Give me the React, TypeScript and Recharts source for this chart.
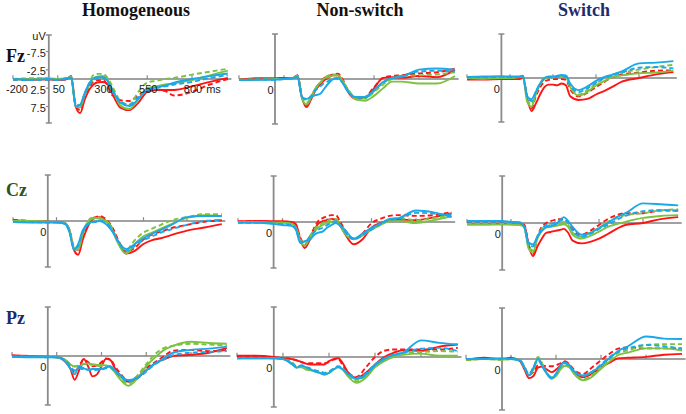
import React from "react";
import { LineChart, Line, XAxis, YAxis, ReferenceLine, ReferenceDot } from "recharts";

// sample times (ms) shared by every waveform
const TIMES = [-200, -100, 0, 50, 100, 125, 150, 175, 200, 225, 250, 275, 300, 325, 350, 375, 400, 450, 500, 550, 600, 650, 700, 800, 900, 1000];

const CONDITIONS = ["Homogeneous", "Non-switch", "Switch"];
const ELECTRODES = ["Fz", "Cz", "Pz"];

const X_TICKS = [-200, 50, 300, 550, 800];
const Y_TICKS = [-7.5, -2.5, 2.5, 7.5];

// rows: red, red dashed, green, green dashed, blue, blue dashed (uV, negative up)
const FZ_HOMOGENEOUS = [
  [0, 0.2, 0.1, 0.3, 0.0, -0.8, 7.5, 9.3, 5.7, 3.0, 1.5, 0.9, 0.8, 1.2, 3.5, 6.0, 7.8, 8.5, 6.5, 3.5, 3.0, 3.0, 3.0, 2.0, 0.8, -0.3],
  [0.2, 0.0, 0.2, 0.3, 0.1, -0.4, 7.0, 8.5, 5.0, 2.5, 0.7, 0.3, 0.3, 1.5, 4.2, 5.0, 5.8, 6.0, 4.5, 3.2, 3.0, 3.3, 4.5, 3.5, 1.5, 0.0],
  [0.1, 0.0, -0.2, 0.0, -0.2, -0.5, 7.5, 7.8, 4.4, 1.8, -0.2, -0.7, -0.8, 0.0, 2.5, 5.0, 7.2, 8.2, 5.5, 2.5, 2.0, 1.5, 1.2, 0.3, -1.0, -2.3],
  [0.0, -0.2, -0.2, 0.0, -0.3, -0.6, 7.0, 7.2, 4.0, 1.2, -1.1, -1.4, -1.4, -0.5, 1.5, 4.0, 6.0, 7.0, 3.5, 1.0, 0.5, 0.0, -0.3, -1.2, -2.0, -2.8],
  [0.0, 0.2, 0.0, 0.2, -0.2, -0.4, 7.5, 7.0, 3.9, 1.2, -0.2, -0.5, -0.5, 0.3, 2.8, 4.8, 6.5, 7.4, 5.5, 3.0, 2.3, 1.8, 1.0, 0.0, -0.8, -1.5],
  [0.2, 0.3, 0.2, 0.3, 0.0, -0.3, 7.0, 7.2, 4.2, 1.8, 0.3, -0.1, -0.2, 0.5, 2.5, 4.5, 6.2, 7.0, 5.0, 3.0, 2.5, 2.0, 1.5, 0.8, -0.3, -1.0],
];

const FZ_NONSWITCH = [
  [0.2, -0.2, -0.2, -0.3, -0.3, -1.0, 5.0, 7.5, 5.5, 3.0, 1.5, 0.3, -0.5, -1.0, -1.0, 0.5, 3.0, 5.3, 5.0, 2.5, -0.3, -0.5, -0.3, -0.8, -0.5, -2.5],
  [0.2, 0.0, 0.0, -0.2, -0.2, -0.9, 4.8, 7.0, 5.0, 2.5, 1.0, -0.3, -0.8, -1.3, -1.4, 0.0, 2.5, 5.0, 4.8, 2.2, -0.3, -0.8, -1.0, -1.5, -1.8, -2.8],
  [0.2, 0.2, 0.0, 0.0, -0.2, -0.8, 5.2, 6.8, 5.0, 2.5, 1.0, -0.2, -0.5, -1.0, -1.0, 0.5, 2.5, 5.5, 5.8, 4.5, 2.5, 0.7, 0.7, 1.2, 1.2, -0.8],
  [0.2, 0.1, 0.0, 0.0, -0.2, -0.8, 4.8, 6.3, 4.8, 2.5, 1.2, -0.3, -1.0, -1.2, -0.8, 0.5, 2.3, 5.0, 5.2, 3.5, 1.5, 0.0, -0.8, -1.0, -1.2, -1.8],
  [0.3, 0.2, 0.2, 0.0, -0.2, -0.5, 4.8, 5.3, 4.8, 4.3, 4.0, 2.5, 1.0, 0.0, -0.3, 1.0, 3.0, 4.8, 4.8, 3.0, 0.8, -0.3, -0.5, -2.5, -2.8, -2.5],
  [0.3, 0.1, 0.2, 0.0, -0.2, -0.6, 4.8, 5.5, 4.5, 3.0, 2.0, 1.0, 0.5, -0.2, 0.0, 1.0, 2.8, 5.0, 5.0, 3.2, 1.0, -0.2, -0.8, -2.0, -2.2, -2.0],
];

const FZ_SWITCH = [
  [0.4, 0.4, 0.3, 0.3, 0.3, 0.0, 5.5, 9.0, 7.0, 4.5, 2.5, 1.8, 1.8, 2.0, 1.5, 2.0, 5.0, 6.0, 5.7, 4.5, 3.5, 2.3, 1.0, 0.0, -1.0, -1.6],
  [0.3, 0.3, 0.2, 0.2, 0.2, -0.2, 5.5, 8.3, 5.0, 2.5, 1.0, 0.5, 0.3, 0.3, 0.3, 0.5, 3.0, 5.0, 4.0, 2.5, 1.0, -0.3, -1.0, -1.5, -2.0, -2.1],
  [0.0, 0.2, 0.0, 0.0, -0.2, -0.5, 6.5, 7.8, 4.5, 1.8, 0.3, -0.2, -0.2, -0.3, -0.3, -0.2, 2.5, 4.8, 3.8, 2.0, 0.8, -0.3, -0.7, -1.3, -1.5, -2.0],
  [0.0, 0.0, -0.2, -0.2, -0.3, -0.5, 6.0, 7.2, 4.0, 1.5, 0.0, -0.3, -0.3, -0.5, -0.5, -0.3, 2.3, 4.5, 3.3, 1.5, 0.0, -1.0, -1.5, -2.3, -3.0, -3.6],
  [-0.3, -0.4, -0.5, -0.4, -0.4, -0.6, 5.0, 5.8, 3.8, 1.5, 0.0, -0.4, -0.4, -0.6, -0.8, -0.7, 1.5, 3.3, 2.3, 0.8, -0.3, -1.0, -1.8, -4.0, -4.2, -4.6],
  [-0.2, -0.2, -0.3, -0.2, -0.3, -0.5, 5.0, 6.3, 3.8, 1.5, 0.2, -0.2, -0.2, -0.3, -0.5, -0.3, 2.0, 3.8, 2.8, 1.3, 0.0, -0.8, -1.5, -2.8, -3.0, -2.6],
];

const CZ_HOMOGENEOUS = [
  [-0.2, 0.0, 0.2, 0.3, 0.6, 2.5, 7.5, 8.8, 5.0, 2.0, -0.2, -0.8, -1.0, -0.3, 0.5, 2.5, 5.0, 8.5, 7.8, 6.0, 5.0, 4.5, 3.8, 2.5, 1.7, 0.8],
  [-0.3, 0.0, 0.2, 0.3, 0.5, 2.5, 7.0, 7.5, 4.0, 1.2, -0.5, -1.0, -1.3, -0.8, 0.3, 2.0, 4.5, 8.0, 7.0, 4.8, 3.5, 2.8, 2.0, 1.0, 0.2, -0.2],
  [0.0, 0.0, 0.2, 0.3, 0.6, 2.5, 7.0, 7.5, 3.5, 0.8, -0.5, -0.8, -0.8, -0.2, 0.5, 2.8, 5.5, 8.5, 6.0, 4.0, 3.0, 2.0, 1.0, -0.8, -1.5, -1.3],
  [0.0, 0.0, 0.2, 0.3, 0.5, 2.3, 6.5, 7.0, 3.0, 0.5, -0.8, -0.7, -0.6, 0.0, 0.6, 2.5, 5.0, 7.5, 5.0, 3.0, 2.0, 1.0, 0.0, -1.0, -1.8, -1.8],
  [0.3, 0.4, 0.4, 0.4, 0.8, 3.0, 7.5, 6.0, 2.5, 1.0, 0.3, 0.2, 0.0, 0.5, 1.5, 3.0, 5.0, 7.3, 6.0, 4.5, 3.3, 2.3, 1.3, -1.0, -1.3, -1.3],
  [0.3, 0.3, 0.4, 0.4, 0.7, 2.8, 7.0, 6.5, 3.0, 1.2, 0.5, 0.2, -0.2, 0.3, 1.0, 2.8, 5.0, 7.8, 6.5, 5.0, 4.0, 3.0, 2.3, 1.0, 0.0, -0.3],
];

const CZ_NONSWITCH = [
  [-0.2, -0.3, -0.2, -0.2, 0.0, 0.5, 4.5, 6.8, 5.0, 2.5, 0.5, -0.2, -0.5, -0.8, -0.6, 1.0, 3.0, 5.8, 4.5, 1.5, 0.3, -0.5, -0.6, -0.5, -1.2, -2.3],
  [0.0, -0.2, 0.0, 0.0, 0.2, 1.0, 4.0, 6.0, 4.2, 1.8, -0.2, -1.0, -1.5, -1.8, -1.8, 0.0, 2.0, 4.5, 3.0, 0.3, -0.8, -1.6, -1.8, -1.6, -1.8, -2.6],
  [0.0, 0.0, 0.2, 0.2, 0.5, 1.5, 5.0, 6.2, 4.5, 2.8, 1.5, 0.8, 0.3, 0.0, -0.3, 1.0, 3.0, 4.5, 3.5, 2.0, 0.8, -0.2, -0.3, 0.3, -0.5, -1.5],
  [0.0, 0.0, 0.2, 0.2, 0.4, 1.5, 4.5, 5.8, 4.0, 2.2, 1.0, 0.3, -0.3, -0.7, -0.8, 0.8, 2.5, 4.3, 3.5, 1.8, 0.5, -0.5, -1.0, -0.5, -1.0, -2.0],
  [0.2, 0.2, 0.5, 0.8, 1.0, 2.0, 5.5, 5.0, 4.8, 3.5, 2.8, 2.5, 1.5, 0.8, 0.3, 1.0, 2.0, 4.3, 3.0, 1.5, 0.5, -0.8, -1.0, -3.0, -2.5, -1.3],
  [0.2, 0.2, 0.4, 0.6, 0.8, 1.8, 5.0, 5.3, 4.0, 2.8, 2.0, 1.5, 0.8, 0.2, -0.2, 1.0, 2.5, 4.5, 3.5, 2.0, 0.5, -0.5, -0.8, -2.4, -2.2, -1.8],
];

const CZ_SWITCH = [
  [0.3, 0.3, 0.2, 0.3, 0.3, 0.5, 5.5, 8.5, 6.0, 4.0, 2.5, 2.3, 2.0, 1.8, 1.5, 2.5, 4.5, 5.2, 4.8, 4.0, 2.8, 1.5, 0.5, 0.0, -1.0, -1.5],
  [0.0, 0.0, 0.0, 0.2, 0.2, 0.5, 5.5, 8.0, 3.5, 1.0, 0.0, -0.5, -0.8, -1.0, -1.0, -0.3, 1.5, 3.0, 2.0, 0.5, -1.0, -2.0, -2.5, -2.5, -3.2, -3.2],
  [0.4, 0.4, 0.4, 0.4, 0.5, 1.0, 6.5, 7.5, 4.0, 2.0, 1.2, 1.0, 0.8, 0.5, 0.3, 1.0, 3.0, 4.0, 3.3, 2.2, 1.0, 0.3, -0.3, -1.3, -1.8, -2.0],
  [0.2, 0.2, 0.2, 0.3, 0.4, 1.0, 6.0, 7.0, 3.5, 1.5, 0.8, 0.5, 0.3, 0.0, -0.3, 0.5, 2.5, 3.5, 2.5, 1.2, -0.3, -1.2, -2.0, -2.5, -3.2, -3.5],
  [-0.5, -0.5, -0.5, -0.3, -0.2, 1.0, 5.0, 5.5, 3.5, 2.0, 1.0, 0.8, 0.5, -0.5, -1.5, -0.5, 1.0, 3.0, 2.5, 1.3, 0.0, -1.5, -2.5, -5.0, -4.8, -4.5],
  [-0.3, -0.3, -0.3, -0.2, 0.0, 1.0, 5.5, 6.0, 3.5, 1.5, 0.5, 0.3, 0.0, -0.5, -0.8, 0.0, 2.0, 3.5, 2.8, 1.5, 0.5, -0.8, -1.8, -3.0, -3.3, -3.0],
];

const PZ_HOMOGENEOUS = [
  [-0.2, 0.0, 0.2, 0.3, 1.5, 3.0, 5.8, 3.5, 0.7, 2.5, 5.0, 4.5, 2.5, 0.7, 1.0, 3.0, 4.5, 6.3, 5.5, 3.5, 1.8, 0.8, 0.0, -0.3, -0.8, -2.0],
  [0.0, 0.2, 0.2, 0.3, 1.2, 2.5, 4.0, 2.5, 0.8, 1.5, 2.5, 2.3, 1.5, 0.6, 0.8, 2.5, 4.0, 6.0, 5.0, 3.0, 1.5, 0.0, -1.3, -1.5, -1.2, -1.5],
  [0.2, 0.2, 0.2, 0.3, 1.0, 2.0, 2.6, 2.5, 2.0, 1.8, 2.0, 2.2, 2.2, 2.3, 2.8, 4.0, 5.5, 7.3, 5.5, 2.5, 0.3, -1.5, -2.5, -3.5, -3.2, -3.0],
  [0.2, 0.2, 0.2, 0.3, 1.0, 2.0, 2.5, 2.3, 2.0, 2.0, 2.2, 2.4, 2.5, 2.4, 2.5, 3.8, 5.0, 6.8, 4.8, 2.0, -0.5, -2.0, -2.5, -3.0, -2.8, -2.6],
  [0.2, 0.3, 0.3, 0.3, 1.5, 3.0, 4.5, 2.5, 3.0, 3.3, 3.2, 3.2, 3.2, 2.8, 2.5, 3.5, 4.5, 5.9, 5.3, 3.5, 1.8, 0.5, -0.8, -1.5, -1.8, -2.3],
  [0.2, 0.2, 0.3, 0.3, 1.2, 2.5, 3.5, 3.0, 3.3, 3.4, 3.5, 3.4, 3.3, 3.0, 2.8, 3.8, 4.8, 6.3, 5.5, 3.8, 2.0, 0.8, -0.2, -0.8, -1.0, -1.2],
];

const PZ_NONSWITCH = [
  [-0.3, -0.3, 0.0, 0.3, 0.5, 0.8, 1.2, 1.6, 1.8, 1.8, 1.8, 1.8, 1.0, 0.5, 0.3, 1.5, 3.5, 5.0, 3.8, 1.8, 0.0, -1.0, -1.6, -1.5, -2.5, -3.0],
  [-0.2, -0.2, 0.0, 0.3, 0.5, 0.8, 1.2, 1.5, 1.5, 1.5, 1.5, 1.5, 1.2, 0.6, 0.5, 2.0, 3.5, 4.8, 2.5, 0.0, -1.5, -1.8, -1.8, -1.8, -1.8, -2.2],
  [0.3, 0.3, 0.3, 0.5, 1.5, 2.5, 2.5, 3.0, 3.2, 3.5, 3.8, 4.2, 3.8, 3.0, 2.5, 3.0, 4.5, 6.2, 5.0, 2.5, 1.0, 0.0, -0.5, -0.8, -0.3, -0.3],
  [0.3, 0.2, 0.3, 0.5, 1.3, 2.3, 2.3, 2.8, 3.0, 3.3, 3.5, 3.8, 3.5, 2.8, 2.3, 2.8, 4.3, 5.8, 4.5, 2.0, 0.5, -0.3, -0.8, -1.2, -1.4, -1.3],
  [0.3, 0.3, 0.3, 0.5, 1.8, 2.6, 2.0, 2.5, 3.0, 3.5, 3.8, 4.2, 3.8, 3.0, 2.4, 3.0, 4.0, 5.3, 4.3, 2.0, 0.5, -0.5, -1.0, -4.0, -3.4, -3.0],
  [0.2, 0.2, 0.3, 0.5, 1.5, 2.3, 2.0, 2.3, 2.8, 3.2, 3.5, 3.8, 3.5, 2.8, 2.2, 2.8, 3.8, 5.0, 4.0, 1.8, 0.3, -0.5, -1.0, -2.0, -2.2, -1.4],
];

const PZ_SWITCH = [
  [0.2, -0.3, 0.0, -0.3, 0.5, 2.5, 4.5, 4.0, 2.0, 1.8, 2.5, 3.1, 2.5, 1.5, 0.6, 1.5, 3.0, 4.3, 3.5, 2.0, 0.8, -0.2, -0.3, -0.5, -1.0, -1.2],
  [0.2, 0.0, 0.0, -0.2, 0.5, 2.0, 3.8, 3.0, 1.5, 1.5, 1.7, 1.7, 1.5, 1.0, 0.6, 1.3, 2.5, 3.5, 2.0, 0.3, -1.3, -2.5, -2.7, -2.5, -2.5, -2.5],
  [0.2, 0.0, 0.2, 0.0, 0.3, 2.0, 3.8, 2.5, -0.3, 1.5, 3.5, 4.6, 4.0, 2.5, 1.6, 2.0, 3.5, 5.0, 4.2, 2.3, 0.5, -1.0, -1.5, -2.5, -2.5, -2.0],
  [0.2, 0.0, 0.2, 0.0, 0.3, 2.0, 3.5, 2.0, -0.5, 1.2, 3.3, 4.3, 3.8, 2.3, 1.3, 1.8, 3.3, 4.8, 3.8, 2.0, 0.0, -1.5, -2.0, -3.3, -3.5, -3.5],
  [0.0, 0.0, -0.2, 0.0, 0.3, 2.0, 3.9, 2.0, 0.0, 1.8, 3.5, 4.6, 3.5, 1.5, 0.8, 1.5, 2.8, 3.9, 3.0, 1.5, -0.3, -2.0, -3.0, -5.3, -4.8, -4.7],
  [0.0, 0.0, 0.0, 0.0, 0.3, 2.0, 3.5, 2.0, 0.3, 1.8, 3.3, 4.3, 3.5, 1.8, 1.0, 1.8, 3.0, 4.0, 3.0, 1.3, -0.5, -1.8, -2.5, -3.3, -3.0, -2.4],
];

const PANEL_DATA = [
  [FZ_HOMOGENEOUS, FZ_NONSWITCH, FZ_SWITCH],
  [CZ_HOMOGENEOUS, CZ_NONSWITCH, CZ_SWITCH],
  [PZ_HOMOGENEOUS, PZ_NONSWITCH, PZ_SWITCH],
];

const SERIES = [
  { key: "red", color: "#ff1414", dash: undefined },
  { key: "redDash", color: "#ff1414", dash: "5 3" },
  { key: "green", color: "#7cc242", dash: undefined },
  { key: "greenDash", color: "#7cc242", dash: "5 3" },
  { key: "blue", color: "#1aa8e8", dash: undefined },
  { key: "blueDash", color: "#1aa8e8", dash: "5 3" },
];

// where each panel sits on the page: x of 0 ms, px per ms, y of 0 uV, half height
const LAYOUT = [
  [{ ax: 49, s: 0.179, zero: 79, half: 44 }, { ax: 275, s: 0.18, zero: 79, half: 45 }, { ax: 501, s: 0.172, zero: 78, half: 44 }],
  [{ ax: 48, s: 0.174, zero: 221, half: 46 }, { ax: 274, s: 0.178, zero: 222, half: 46 }, { ax: 502, s: 0.176, zero: 223, half: 47 }],
  [{ ax: 48, s: 0.179, zero: 356, half: 49 }, { ax: 274, s: 0.184, zero: 357, half: 50 }, { ax: 502, s: 0.18, zero: 359, half: 51 }],
];

const AXIS = "#8a8a8a";
const SANS = "'Liberation Sans', Arial, sans-serif";
const SERIF = "'Liberation Serif', 'Times New Roman', serif";
const MX = 24;
const MY = 6;

function textDot(text: string, dx: number, dy: number, anchor: "start" | "middle" | "end") {
  return (p: any) => (
    <text x={p.cx + dx} y={p.cy + dy} textAnchor={anchor} fontSize={11} fontFamily={SANS} fill="#1a1a1a">
      {text}
    </text>
  );
}

function Panel({ row, col }: { row: number; col: number }) {
  const { ax, s, zero, half } = LAYOUT[row][col];
  const rows = PANEL_DATA[row][col];
  const data = TIMES.map((t, i) => {
    const d: Record<string, number> = { t };
    SERIES.forEach((sr, k) => (d[sr.key] = rows[k][i]));
    return d;
  });
  const first = row === 0 && col === 0;
  const capX = 3 / s;

  return (
    <div style={{ position: "absolute", left: ax - 200 * s - MX, top: zero - half - MY }}>
      <LineChart
        width={1220 * s + 2 * MX}
        height={2 * half + 2 * MY}
        data={data}
        margin={{ top: MY, bottom: MY, left: MX, right: MX }}
      >
        <XAxis dataKey="t" type="number" domain={[-200, 1020]} hide />
        <YAxis type="number" domain={[-12, 12]} reversed hide />
        <ReferenceLine y={0} stroke="#a0a0a0" strokeWidth={2} />
        <ReferenceLine x={0} stroke={AXIS} strokeWidth={1.8} />
        <ReferenceLine segment={[{ x: -capX, y: -12 }, { x: capX, y: -12 }]} stroke={AXIS} strokeWidth={1.5} />
        <ReferenceLine segment={[{ x: -capX, y: 12 }, { x: capX, y: 12 }]} stroke={AXIS} strokeWidth={1.5} />
        {X_TICKS.map((t) => (
          <ReferenceLine key={"xt" + t} segment={[{ x: t, y: 0 }, { x: t, y: -1 }]} stroke={AXIS} strokeWidth={1.2} />
        ))}
        {first &&
          Y_TICKS.map((v) => (
            <ReferenceLine key={"yt" + v} segment={[{ x: -capX, y: v }, { x: 0, y: v }]} stroke={AXIS} strokeWidth={1.2} />
          ))}
        {first &&
          Y_TICKS.map((v) => (
            <ReferenceDot key={"yl" + v} x={0} y={v} r={1} shape={textDot(String(v), -3, 5.5, "end")} />
          ))}
        {first && <ReferenceDot x={0} y={-12} r={1} shape={textDot("uV", -3, 5, "end")} />}
        {first &&
          X_TICKS.map((t) => (
            <ReferenceDot
              key={"xl" + t}
              x={t}
              y={0}
              r={1}
              shape={t === -200 ? textDot(String(t), -7, 14, "start") : textDot(String(t), 1, 14, "middle")}
            />
          ))}
        {first && <ReferenceDot x={920} y={0} r={1} shape={textDot("ms", 0, 14, "middle")} />}
        {!first && <ReferenceDot x={0} y={0} r={1} shape={textDot("0", -4.5, 15.5, "middle")} />}
        {SERIES.map((sr) => (
          <Line
            key={sr.key}
            dataKey={sr.key}
            type="monotone"
            stroke={sr.color}
            strokeWidth={1.9}
            strokeDasharray={sr.dash}
            dot={false}
            activeDot={false}
            isAnimationActive={false}
          />
        ))}
      </LineChart>
    </div>
  );
}

const TITLE_X = [136, 360, 584];
const TITLE_COLORS = ["#111", "#111", "#1f2b6b"];
const LABEL_Y = [62, 196, 324];
const LABEL_COLORS = ["#111", "#2f5220", "#1b2a6b"];

export default function App() {
  return (
    <div style={{ position: "absolute", left: 0, top: 0, width: 686, height: 414, background: "#fff", overflow: "hidden" }}>
      {LAYOUT.map((r, ri) => r.map((_, ci) => <Panel key={ri + "-" + ci} row={ri} col={ci} />))}
      <svg width={686} height={414} style={{ position: "absolute", left: 0, top: 0, pointerEvents: "none" }}>
        {CONDITIONS.map((c, i) => (
          <text key={c} x={TITLE_X[i]} y={16} textAnchor="middle" fontFamily={SERIF} fontWeight="bold" fontSize={18} fill={TITLE_COLORS[i]}>
            {c}
          </text>
        ))}
        {ELECTRODES.map((e, i) => (
          <text key={e} x={6} y={LABEL_Y[i]} fontFamily={SERIF} fontWeight="bold" fontSize={18} fill={LABEL_COLORS[i]}>
            {e}
          </text>
        ))}
      </svg>
    </div>
  );
}
